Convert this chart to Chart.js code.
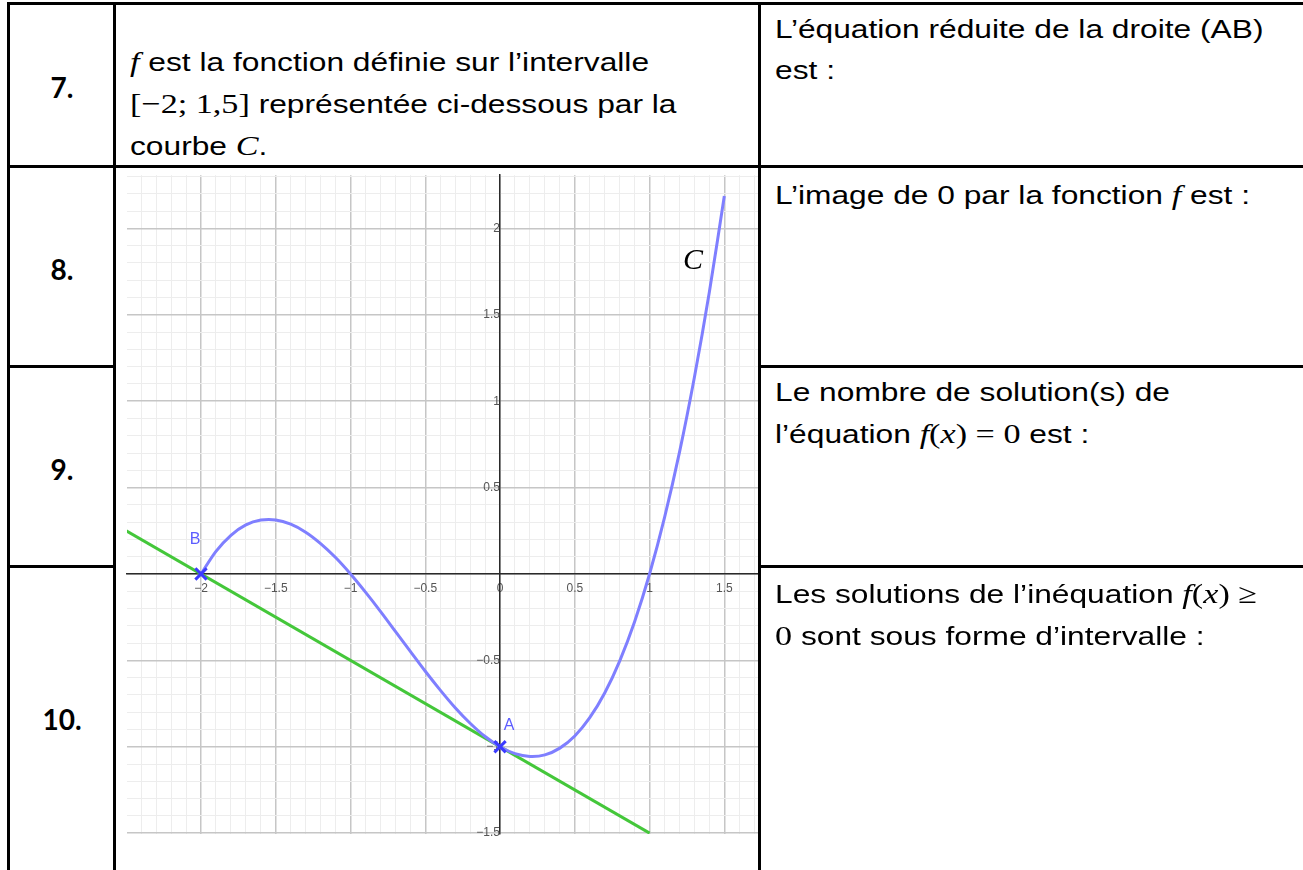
<!DOCTYPE html>
<html lang="fr">
<head>
<meta charset="utf-8">
<title>Courbe C</title>
<script src="https://cdn.jsdelivr.net/npm/chart.js@4"></script>
<style>
    html, body { margin: 0; padding: 0; background: #fff; }
    body { width: 1303px; height: 870px; position: relative; overflow: hidden; font-family: "Liberation Sans", Arial, sans-serif; color: #000; }
    .hl, .vl { position: absolute; background: #000; z-index: 2; }
    .num { position: absolute; font-family: Lato, "Open Sans", sans-serif; font-weight: bold; font-size: 28px; width: 106px; text-align: center; left: 9px; }
    .txt { position: absolute; font-size: 26px; line-height: 41px; white-space: nowrap; transform: scaleX(1.22); transform-origin: 0 0; }
    .m { font-family: "Liberation Serif", "DejaVu Serif", serif; font-size: 28px; }
    .mi { font-family: "Liberation Serif", "DejaVu Serif", serif; font-style: italic; font-size: 28px; }
    #graph { position: absolute; left: 116px; top: 161px; z-index: 1; }
</style>
</head>
<body>

<!-- table lines -->
<div class="hl" style="left:7px; top:2px; width:1296px; height:3px;"></div>
<div class="hl" style="left:7px; top:165px; width:1296px; height:3px;"></div>
<div class="hl" style="left:7px; top:365px; width:108px; height:3px;"></div>
<div class="hl" style="left:758px; top:365px; width:545px; height:3px;"></div>
<div class="hl" style="left:7px; top:565px; width:108px; height:3px;"></div>
<div class="hl" style="left:758px; top:565px; width:545px; height:3px;"></div>
<div class="vl" style="left:7px; top:2px; width:3px; height:868px;"></div>
<div class="vl" style="left:113px; top:2px; width:3px; height:868px;"></div>
<div class="vl" style="left:758px; top:2px; width:3px; height:868px;"></div>
<div style="position:absolute; left:761px; top:168px; width:542px; height:702px; background:#fff; z-index:1;"></div>

<div class="num" style="top:70px;">7.</div>
<div class="num" style="top:252px;">8.</div>
<div class="num" style="top:452px;">9.</div>
<div class="num" style="top:702px;">10.</div>

<div class="txt" style="left:130px; top:41px;">
    <span class="mi">f</span> est la fonction définie sur l’intervalle<br>
    <span class="m">[−2; 1,5]</span> représentée ci-dessous par la<br>
    courbe <span class="mi">C</span>.
</div>

<div class="txt" style="left:775px; top:9px;">L’équation réduite de la droite (AB)<br>est :</div>
<div class="txt" style="left:775px; top:174px; z-index:3;">L’image de 0 par la fonction <span class="mi">f</span> est :</div>
<div class="txt" style="left:775px; top:372px; z-index:3;">Le nombre de solution(s) de<br>l’équation <span class="mi">f</span><span class="m">(</span><span class="mi">x</span><span class="m">) = 0</span> est :</div>
<div class="txt" style="left:775px; top:573px; z-index:3;">Les solutions de l’inéquation <span class="mi">f</span><span class="m">(</span><span class="mi">x</span><span class="m">) ≥</span><br><span class="m">0</span> sont sous forme d’intervalle :</div>

<canvas id="graph" width="654" height="709"></canvas>

<script>
// courbe C, valeurs
const xValues = [-2, -1.9, -1.8, -1.7, -1.6, -1.5, -1.4, -1.3, -1.2, -1.1,
                 -1, -0.9, -0.8, -0.7, -0.6, -0.5, -0.4, -0.3, -0.2, -0.1,
                 0, 0.1, 0.2, 0.3, 0.4, 0.5, 0.6, 0.7, 0.8, 0.9,
                 1, 1.1, 1.2, 1.3, 1.4, 1.5];
const curveValues = [0, 0.131, 0.224, 0.284, 0.312, 0.313, 0.288, 0.242, 0.176, 0.095,
                     0, -0.105, -0.216, -0.332, -0.448, -0.563, -0.672, -0.774, -0.864, -0.941,
                     -1, -1.040, -1.056, -1.047, -1.008, -0.938, -0.832, -0.689, -0.504, -0.276,
                     0, 0.326, 0.704, 1.139, 1.632, 2.188];

// droite (AB)
const lineX = [-2.5, 1];
const lineY = [0.25, -1.5];

// points A et B
const pointNames = ['A', 'B'];
const pointX = [0, -2];
const pointY = [-1, 0];

// graduations
const xTicks = [-2, -1.5, -1, -0.5, 0, 0.5, 1, 1.5];
const xTickLabels = ['−2', '−1.5', '−1', '−0.5', '0', '0.5', '1', '1.5'];
const yTicks = [-1.5, -1, -0.5, 0.5, 1, 1.5, 2];
const yTickLabels = ['−1.5', '−1', '−0.5', '0.5', '1', '1.5', '2'];

function isMajor(v) {
    return Math.abs(v * 2 - Math.round(v * 2)) < 1e-6;
}

function labelFor(v, ticks, labels) {
    const i = ticks.findIndex(t => Math.abs(t - v) < 1e-6);
    return i >= 0 ? labels[i] : '';
}

const gridColor = ctx => isMajor(ctx.tick.value) ? '#c6c6c6' : '#ededed';
const gridWidth = ctx => isMajor(ctx.tick.value) ? 1.5 : 1;

// textes A, B et C
const textPlugin = {
    id: 'graphText',
    afterDatasetsDraw(chart) {
        const c = chart.ctx;
        const xs = chart.scales.x, ys = chart.scales.y;
        c.save();
        c.textAlign = 'center';
        c.textBaseline = 'middle';
        c.fillStyle = '#5c5cff';
        c.font = '16px "Liberation Sans", Arial, sans-serif';
        const offsets = { A: [9, -21], B: [-6, -34] };
        pointNames.forEach((name, i) => {
            const px = xs.getPixelForValue(pointX[i]);
            const py = ys.getPixelForValue(pointY[i]);
            c.fillText(name, px + offsets[name][0], py + offsets[name][1]);
        });
        c.fillStyle = '#000';
        c.font = 'italic 30px "Liberation Serif", "DejaVu Serif", serif';
        c.fillText('C', xs.getPixelForValue(1.29), ys.getPixelForValue(1.81));
        c.restore();
    }
};

const ctx = document.getElementById('graph').getContext('2d');
new Chart(ctx, {
    type: 'scatter',
    data: {
        datasets: [
            {
                label: 'points',
                data: pointX.map((x, i) => ({ x: x, y: pointY[i] })),
                pointStyle: 'crossRot',
                pointRadius: 8,
                pointBorderWidth: 3,
                borderColor: '#3b3bff',
                backgroundColor: '#3b3bff',
                showLine: false
            },
            {
                label: 'C',
                data: xValues.map((x, i) => ({ x: x, y: curveValues[i] })),
                showLine: true,
                borderColor: '#7f7fff',
                borderWidth: 3,
                pointRadius: 0,
                tension: 0.3
            },
            {
                label: '(AB)',
                data: lineX.map((x, i) => ({ x: x, y: lineY[i] })),
                showLine: true,
                borderColor: '#44c73a',
                borderWidth: 3,
                pointRadius: 0
            }
        ]
    },
    options: {
        responsive: false,
        animation: false,
        layout: { padding: { left: 11, top: 5, right: 0, bottom: 36 } },
        plugins: {
            legend: { display: false },
            tooltip: { enabled: false }
        },
        scales: {
            x: {
                type: 'linear',
                min: -2.495,
                max: 1.732,
                position: { y: 0 },
                grid: { color: gridColor, lineWidth: gridWidth, drawTicks: false },
                border: { color: '#2a2a2a', width: 1.5 },
                ticks: {
                    stepSize: 0.1,
                    autoSkip: false,
                    includeBounds: false,
                    maxRotation: 0,
                    padding: 8,
                    color: '#555',
                    font: { family: '"Liberation Sans", Arial, sans-serif', size: 12 },
                    callback: v => labelFor(v, xTicks, xTickLabels)
                }
            },
            y: {
                type: 'linear',
                min: -1.505,
                max: 2.308,
                position: { x: 0 },
                grid: { color: gridColor, lineWidth: gridWidth, drawTicks: false },
                border: { color: '#2a2a2a', width: 1.5 },
                ticks: {
                    stepSize: 0.1,
                    autoSkip: false,
                    includeBounds: false,
                    padding: 7,
                    color: '#555',
                    font: { family: '"Liberation Sans", Arial, sans-serif', size: 12 },
                    callback: v => labelFor(v, yTicks, yTickLabels)
                }
            }
        }
    },
    plugins: [textPlugin]
});
</script>
</body>
</html>
